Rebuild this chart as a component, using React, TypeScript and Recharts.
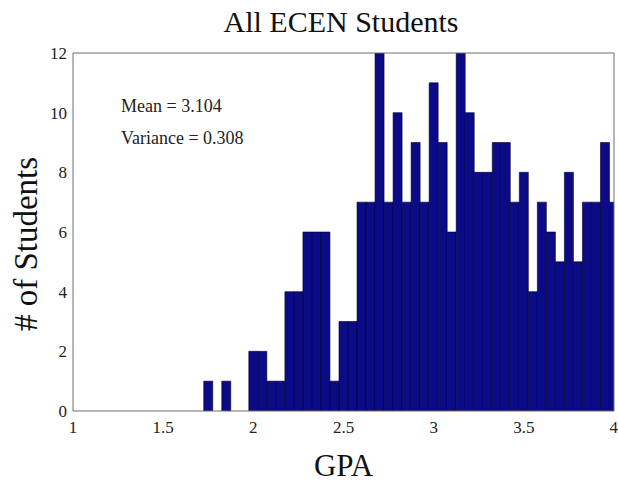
import React from 'react'
import { BarChart, Bar, XAxis, YAxis } from 'recharts'

// GPA bin centres (bin width 0.05) and the student count in each bin
const GPA_BINS = [
  1.75, 1.8, 1.85, 1.9, 1.95, 2.0, 2.05, 2.1, 2.15, 2.2, 2.25, 2.3, 2.35, 2.4, 2.45, 2.5,
  2.55, 2.6, 2.65, 2.7, 2.75, 2.8, 2.85, 2.9, 2.95, 3.0, 3.05, 3.1, 3.15, 3.2, 3.25, 3.3,
  3.35, 3.4, 3.45, 3.5, 3.55, 3.6, 3.65, 3.7, 3.75, 3.8, 3.85, 3.9, 3.95, 4.0,
]
const STUDENTS = [
  1, 0, 1, 0, 0, 2, 2, 1, 1, 4, 4, 6, 6, 6, 1, 3,
  3, 7, 7, 12, 7, 10, 7, 9, 7, 11, 9, 6, 12, 10, 8, 8,
  9, 9, 7, 8, 4, 7, 6, 5, 8, 5, 7, 7, 9, 7,
]
const X_TICKS = [1, 1.5, 2, 2.5, 3, 3.5, 4]
const Y_TICKS = [0, 2, 4, 6, 8, 10, 12]

const TITLE = 'All ECEN Students'
const STATS = ['Mean = 3.104', 'Variance = 0.308']

const data = GPA_BINS.map((gpa, i) => ({ gpa, count: STUDENTS[i] }))

const FONT = '"Liberation Serif", "Times New Roman", serif'
const AXIS = '#6f6f6f'
const TICK_TEXT = { fill: '#222', fontSize: 17, fontFamily: FONT }
const BAR_FILL = '#0b0b88'

const W = 618
const H = 482

export default function App() {
  return (
    <div style={{ position: 'absolute', left: 0, top: 0, width: W, height: H, background: '#fff' }}>
      <BarChart
        width={W}
        height={H}
        data={data}
        margin={{ top: 53, right: 4, bottom: 0, left: 0 }}
        barCategoryGap={0}
        barGap={0}
      >
        <XAxis
          dataKey="gpa"
          type="number"
          domain={[1, 4]}
          ticks={X_TICKS}
          allowDataOverflow
          height={71}
          tickLine={false}
          tickMargin={4}
          axisLine={{ stroke: AXIS }}
          tick={TICK_TEXT}
          label={{
            value: 'GPA',
            content: ({ viewBox }: any) => (
              <text
                x={viewBox.x + viewBox.width / 2}
                y={476}
                textAnchor="middle"
                fontFamily={FONT}
                fontSize={31}
                fill="#111"
              >
                GPA
              </text>
            ),
          }}
        />
        <XAxis
          xAxisId="bottomTicks"
          dataKey="gpa"
          type="number"
          domain={[1, 4]}
          ticks={X_TICKS}
          allowDataOverflow
          orientation="bottom"
          mirror
          tick={false}
          tickSize={5}
          tickLine={{ stroke: AXIS }}
          axisLine={false}
        />
        <XAxis
          xAxisId="topTicks"
          dataKey="gpa"
          type="number"
          domain={[1, 4]}
          ticks={X_TICKS}
          allowDataOverflow
          orientation="top"
          mirror
          tick={false}
          tickSize={5}
          tickLine={{ stroke: AXIS }}
          axisLine={{ stroke: AXIS }}
        />
        <YAxis
          type="number"
          domain={[0, 12]}
          ticks={Y_TICKS}
          allowDataOverflow
          width={73}
          tickLine={false}
          tickMargin={0}
          axisLine={{ stroke: AXIS }}
          tick={TICK_TEXT}
          label={{
            value: '# of Students',
            content: () => (
              <text
                x={37}
                y={244}
                transform="rotate(-90, 37, 244)"
                textAnchor="middle"
                fontFamily={FONT}
                fontSize={33}
                fill="#111"
              >
                # of Students
              </text>
            ),
          }}
        />
        <YAxis
          yAxisId="leftTicks"
          type="number"
          domain={[0, 12]}
          ticks={Y_TICKS}
          allowDataOverflow
          orientation="left"
          mirror
          tick={false}
          tickSize={5}
          tickLine={{ stroke: AXIS }}
          axisLine={false}
        />
        <YAxis
          yAxisId="rightTicks"
          type="number"
          domain={[0, 12]}
          ticks={Y_TICKS}
          allowDataOverflow
          orientation="right"
          mirror
          tick={false}
          tickSize={5}
          tickLine={{ stroke: AXIS }}
          axisLine={{ stroke: AXIS }}
        />
        <Bar
          dataKey="count"
          fill={BAR_FILL}
          stroke="#000028"
          strokeWidth={0.6}
          isAnimationActive={false}
        />
      </BarChart>
      <svg
        width={W}
        height={H}
        style={{ position: 'absolute', left: 0, top: 0, pointerEvents: 'none' }}
      >
        <text x={341} y={32} textAnchor="middle" fontFamily={FONT} fontSize={30} fill="#111">
          {TITLE}
        </text>
        {STATS.map((s, i) => (
          <text key={s} x={121} y={112 + i * 32} fontFamily={FONT} fontSize={18} fill="#222">
            {s}
          </text>
        ))}
      </svg>
    </div>
  )
}
